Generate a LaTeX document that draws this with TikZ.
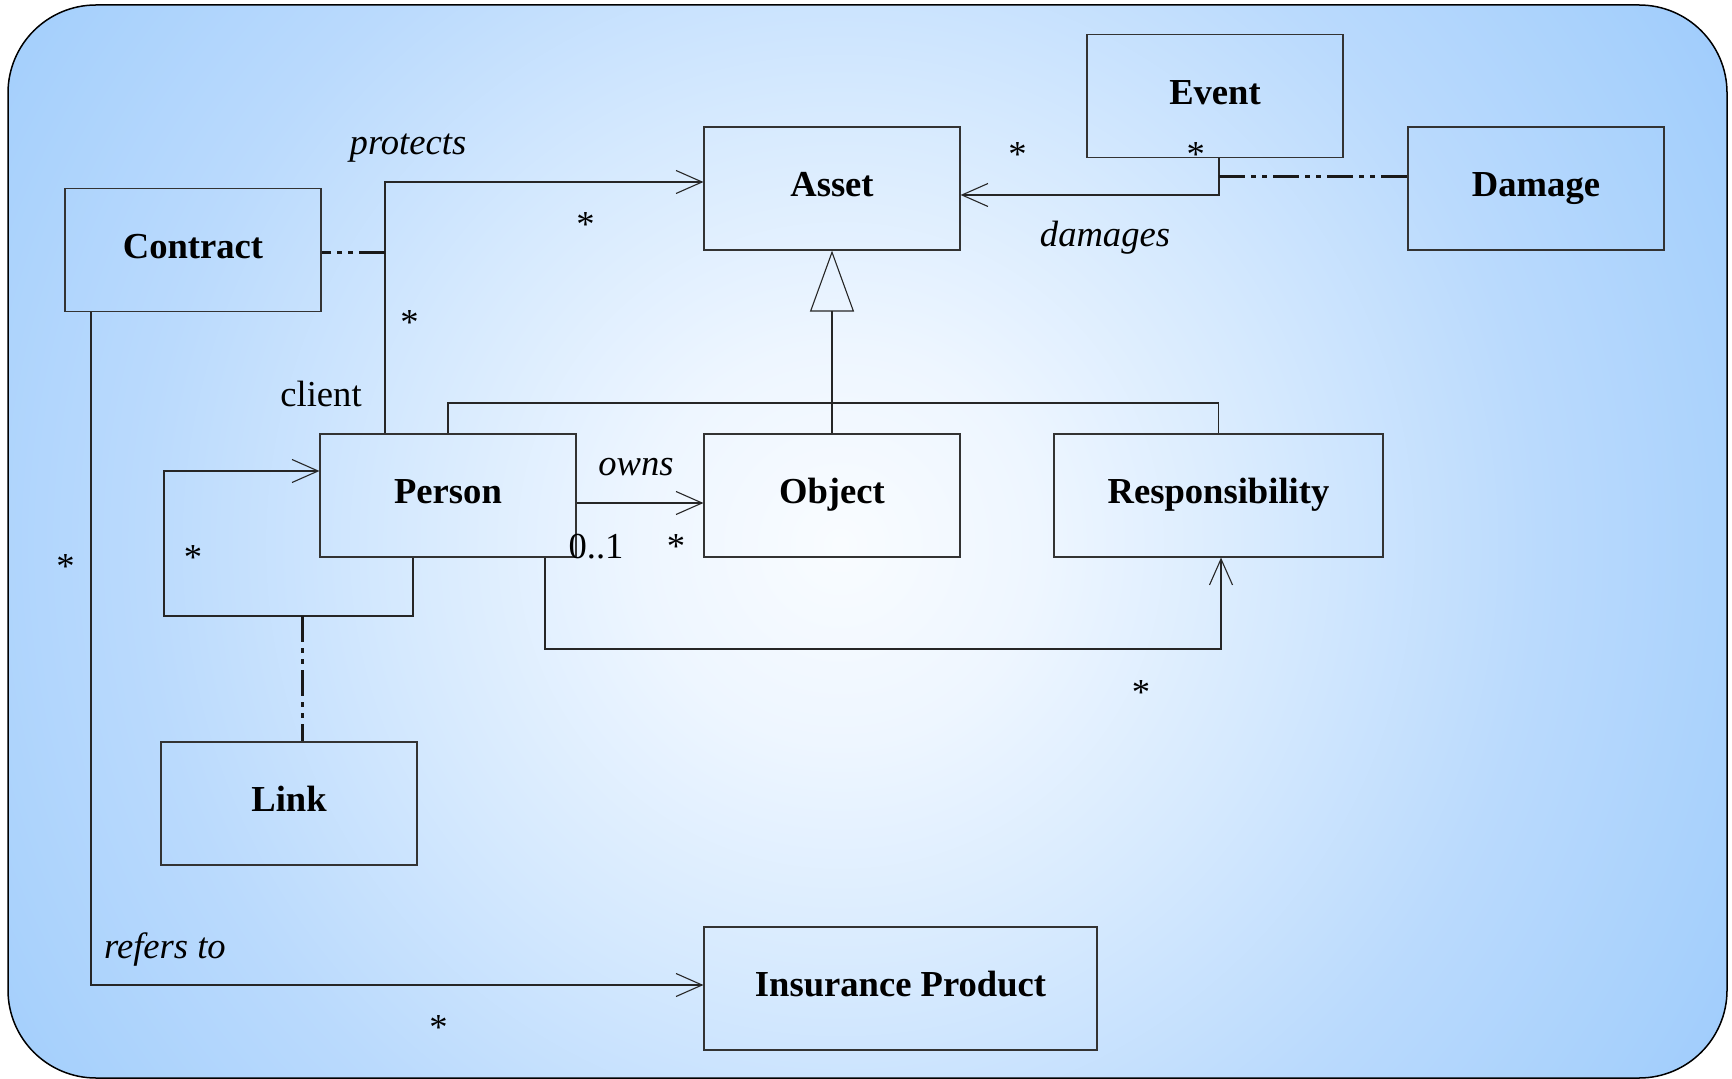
\documentclass[tikz,border=0pt]{standalone}
\usepackage{fontspec}
\setmainfont{Liberation Serif}
\usetikzlibrary{arrows.meta,calc}

% background glow colours, from the bright centre to the blue rim
\definecolor{glowA}{HTML}{F9FCFF}
\definecolor{glowB}{HTML}{EEF6FF}
\definecolor{glowC}{HTML}{D5E9FE}
\definecolor{glowD}{HTML}{BADAFD}
\definecolor{glowE}{HTML}{A6D0FC}
\definecolor{glowF}{HTML}{9AC8FB}
\pgfdeclareradialshading{bgglow}{\pgfpoint{0bp}{0bp}}{%
  color(0bp)=(glowA); color(4.5bp)=(glowB); color(10.2bp)=(glowC);
  color(15.9bp)=(glowD); color(21.6bp)=(glowE); color(25bp)=(glowF);
  color(50bp)=(glowF)}

\begin{document}
\begin{tikzpicture}[
  x=0.5pt, y=-0.5pt,
  cls/.style={draw=black!80, line width=0.6pt, minimum width=128pt,
    minimum height=61.5pt, inner sep=0pt, text height=12.8pt, text depth=4.6pt,
    font=\fontsize{18.3}{22}\selectfont\bfseries},
  link/.style={draw=black!85, line width=0.55pt},
  nav/.style={link, -{Straight Barb[length=13pt,width=11.5pt,line width=0.55pt]}},
  assoc/.style={draw=black!90, line width=1.5pt,
    dash pattern=on 13pt off 3pt on 2.5pt off 3pt on 2.5pt off 3pt},
  role/.style={anchor=base, inner sep=0pt, font=\fontsize{18.3}{22}\selectfont\itshape},
  plain/.style={anchor=base, inner sep=0pt, font=\fontsize{18.3}{22}\selectfont},
  mult/.style={anchor=base, inner sep=0pt, font=\fontsize{18.3}{22}\selectfont}
]
\useasboundingbox (0,0) rectangle (1732,1079);

% rounded panel with a soft radial glow
\begin{scope}
  \clip[rounded corners=44pt] (8,5) rectangle (1727,1078);
  \shade[shading=bgglow] (-260,-555) rectangle (1940,1645);
\end{scope}
\draw[line width=0.75pt, rounded corners=44pt] (8,5) rectangle (1727,1078);

% classes
\node[cls] (Event)    at (1215,96)    {Event};
\node[cls] (Asset)    at (832,188.5)  {Asset};
\node[cls] (Damage)   at (1536,188.5) {Damage};
\node[cls] (Contract) at (193,250)    {Contract};
\node[cls] (Person)   at (448,495.5)  {Person};
\node[cls] (Object)   at (832,495.5)  {Object};
\node[cls, minimum width=164.5pt] (Resp) at (1218.5,495.5) {Responsibility};
\node[cls] (Link)     at (289,803.5)  {Link};
\node[cls, minimum width=196.5pt] (Product) at (900.5,988.5) {Insurance Product};

% bend points of the connectors
\coordinate (clientBend)   at (385,182);
\coordinate (contractJoin) at (385,253);
\coordinate (damageBend)   at (1219,195);
\coordinate (damageJoin)   at (1219,177);
\coordinate (genBar)       at (832,403);
\coordinate (ownsRow)      at (640,503);
\coordinate (respLeft)     at (545,649);
\coordinate (respRight)    at (1221,649);
\coordinate (loopLow)      at (413,616);
\coordinate (loopLeft)     at (164,471);
\coordinate (linkJoin)     at (302,616);
\coordinate (refersBend)   at (91,985);

% protects (client -> asset) with association class Contract
\draw[nav] (Person.north -| clientBend) -- (clientBend) -- (Asset.west |- clientBend);
\draw[assoc] (contractJoin) -- (Contract.east |- contractJoin);

% damages (event -> asset) with association class Damage
\draw[nav] (Event.south -| damageBend) -- (damageBend) -- (Asset.east |- damageBend);
\draw[assoc] (damageJoin) -- (Damage.west |- damageJoin);

% generalization of Asset
\draw[link, -{Triangle[open,length=30.5pt,width=22pt,line width=0.55pt]}] (Object.north) -- (Asset.south);
\draw[link] (Person.north) |- (genBar) -| (Resp.north);

% owns
\draw[nav] (Person.east |- ownsRow) -- (Object.west |- ownsRow);

% person -> responsibility
\draw[nav] (Person.south -| respLeft) -- (respLeft) -- (respRight) -- (Resp.south -| respRight);

% person self association with association class Link
\draw[nav] (Person.south -| loopLow) -- (loopLow) -- (loopLeft |- loopLow) -- (loopLeft) -- (Person.west |- loopLeft);
\draw[assoc] (linkJoin) -- (Link.north -| linkJoin);

% refers to
\draw[nav] (Contract.south -| refersBend) -- (refersBend) -- (Product.west |- refersBend);

% role names
\node[role]  (protectsLbl) at (408,155)  {protects};
\node[plain] (clientLbl)   at (321,407)  {client};
\node[role]  (damagesLbl)  at (1105,247) {damages};
\node[role]  (ownsLbl)     at (636,475)  {owns};
\node[plain] (zeroOne)     at (596,558)  {0..1};
\node[role]  (refersLbl)   at (165,958)  {refers to};

% multiplicities
\node[mult] (m1) at (585.5,236.5)  {*};
\node[mult] (m2) at (409.5,334.5)  {*};
\node[mult] (m3) at (1017.6,166.5) {*};
\node[mult] (m4) at (1195.7,166.5) {*};
\node[mult] (m5) at (676,558)      {*};
\node[mult] (m6) at (193,569.5)    {*};
\node[mult] (m7) at (65.6,578.5)   {*};
\node[mult] (m8) at (1141,704.5)   {*};
\node[mult] (m9) at (438.6,1039.5) {*};
\end{tikzpicture}
\end{document}
